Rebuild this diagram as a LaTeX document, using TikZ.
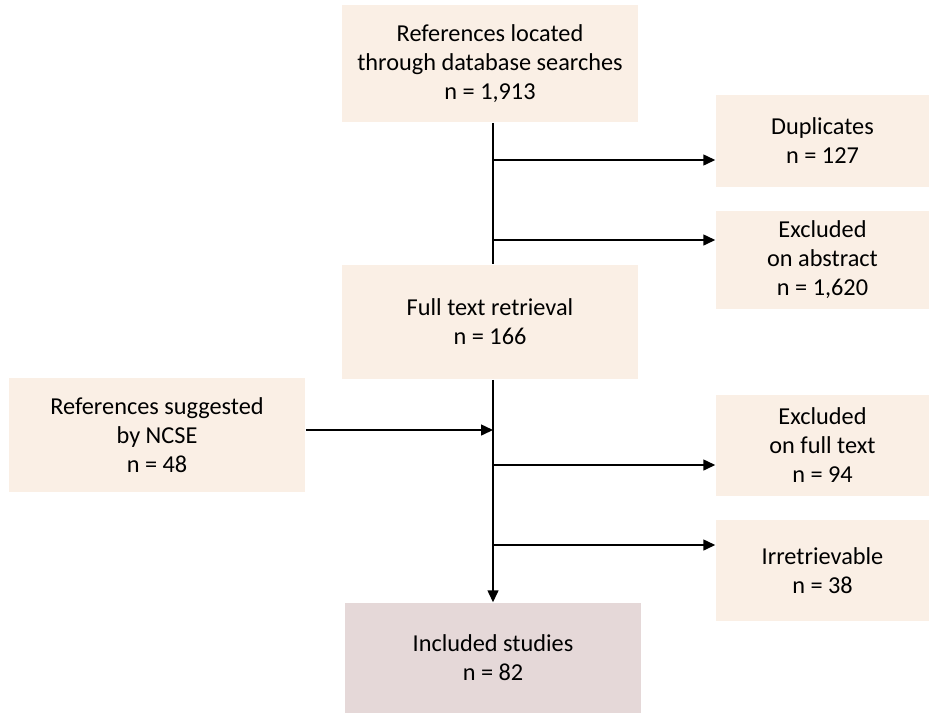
\documentclass[tikz,border=0pt]{standalone}
\usepackage{fontspec}
\setmainfont{Carlito}
\usepackage{tikz}
\usetikzlibrary{positioning}
\usetikzlibrary{arrows.meta}
\definecolor{peach}{RGB}{250,239,229}
\definecolor{rose}{RGB}{229,216,216}

\begin{document}
\begin{tikzpicture}[x=1pt, y=-1pt, >={Triangle[length=12pt, width=11pt]}, line width=1.5pt]
\tikzstyle{box}=[fill=peach, align=center, inner sep=0pt, font=\fontsize{24.3}{29}\selectfont]
\tikzstyle{mainbox}=[box, minimum width=296pt]
\tikzstyle{sidebox}=[box, minimum width=213pt]
\useasboundingbox (0,0) rectangle (929,713);
\node[mainbox, minimum height=117pt] (refs) at (490,63.5) {References located\\through database searches\\n = 1,913};
\node[sidebox, minimum height=92pt]  (dup)  at (822.5,141) {Duplicates\\n = 127};
\node[sidebox, minimum height=98pt]  (excabs) at (822.5,260) {Excluded\\on abstract\\n = 1,620};
\node[mainbox, minimum height=114pt] (full) at (490,322) {Full text retrieval\\n = 166};
\node[mainbox, minimum height=114pt] (ncse) at (157,435) {References suggested\\by NCSE\\n = 48};
\node[sidebox, minimum height=101pt] (excfull) at (822.5,445.5) {Excluded\\on full text\\n = 94};
\node[sidebox, minimum height=101pt] (irr) at (822.5,570.5) {Irretrievable\\n = 38};
\node[mainbox, minimum height=110pt, fill=rose] (incl) at (493,658) {Included studies\\n = 82};

\coordinate (b1) at (493,160);
\coordinate (b2) at (493,240);
\coordinate (b3) at (493,430);
\coordinate (b4) at (493,465);
\coordinate (b5) at (493,545);
\draw (refs.south -| b1) -- (full.north -| b1);
\draw[->] (full.south -| b1) -- (incl.north);
\draw[->] (b1) -- (b1 -| dup.west);
\draw[->] (b2) -- (b2 -| excabs.west);
\draw[->] (b3 -| ncse.east) -- (b3);
\draw[->] (b4) -- (b4 -| excfull.west);
\draw[->] (b5) -- (b5 -| irr.west);
\end{tikzpicture}
\end{document}
